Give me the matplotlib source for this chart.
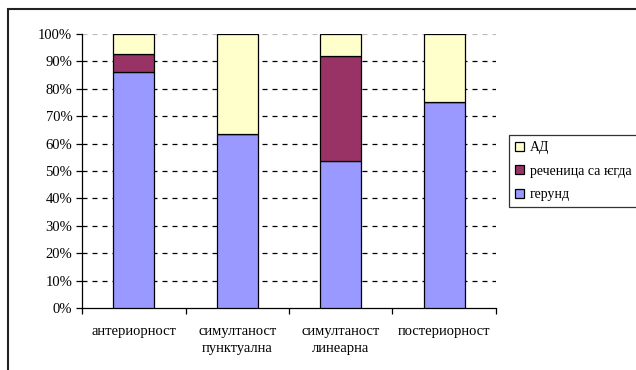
import numpy as np
import matplotlib.pyplot as plt
from matplotlib.patches import Rectangle
from matplotlib.ticker import PercentFormatter

plt.rcParams['font.family'] = ['Liberation Serif', 'DejaVu Serif']

categories = ['антериорност', 'симултаност\nпунктуална', 'симултаност\nлинеарна', 'постериорност']
gerund = [86.0, 63.5, 53.8, 75.1]
recenica = [6.6, 0.0, 38.2, 0.0]
ad = [7.4, 36.5, 8.0, 24.9]

series_names = ['герунд', 'реченица са ѥгда', 'АД']
series_colors = ['#9999FF', '#993366', '#FFFFCC']

fig = plt.figure(figsize=(6.36, 3.70), dpi=100)
ax = fig.add_axes([82/636, 1 - 308/370, (496-82)/636, (308-34)/370])

# outer chart frame (cut off at right and bottom)
fig.patches.append(Rectangle((8/636, -0.1), 1.2, 1 - 9/370 + 0.1, transform=fig.transFigure,
                             fill=False, edgecolor='#222222', linewidth=1.5))

x = np.arange(len(categories))
bottom = np.zeros(len(categories))
for vals, name, col in zip([gerund, recenica, ad], series_names, series_colors):
    ax.bar(x, vals, 0.4, bottom=bottom, color=col, edgecolor='black', linewidth=0.9,
           label=name, zorder=3)
    bottom += np.array(vals)

ax.set_xlim(-0.5, len(categories) - 0.5)
ax.set_ylim(0, 100)
ax.set_yticks(np.arange(0, 101, 10))
ax.yaxis.set_major_formatter(PercentFormatter(decimals=0))
for yv in range(10, 100, 10):
    ax.axhline(yv, color='black', linestyle=(0, (4, 4)), linewidth=0.9, zorder=1)
ax.axhline(100, color='#bbbbbb', linestyle=(0, (4, 4)), linewidth=0.9, zorder=1)

ax.set_xticks(x)
ax.set_xticklabels(categories, fontsize=10.5, linespacing=1.45)
ax.set_xticks(np.arange(-0.5, len(categories), 1), minor=True)
ax.tick_params(axis='x', which='major', length=0, pad=12)
ax.tick_params(axis='x', which='minor', length=4, direction='out', width=0.9)
ax.tick_params(axis='y', length=4, direction='out', width=0.9, labelsize=10.5, pad=3)

ax.spines['top'].set_visible(False)
ax.spines['right'].set_visible(False)
ax.spines['left'].set_linewidth(0.9)
ax.spines['bottom'].set_linewidth(0.9)

handles, labels = ax.get_legend_handles_labels()
leg = fig.legend(handles[::-1], labels[::-1], loc='upper left',
                 bbox_to_anchor=(509/636, 1 - 135/370), fontsize=10,
                 frameon=True, fancybox=False, edgecolor='black',
                 handlelength=0.65, handleheight=0.65, handletextpad=0.4,
                 labelspacing=0.75, borderpad=0.45, borderaxespad=0)
leg.get_frame().set_linewidth(0.9)

fig.savefig('out.png', dpi=100)
